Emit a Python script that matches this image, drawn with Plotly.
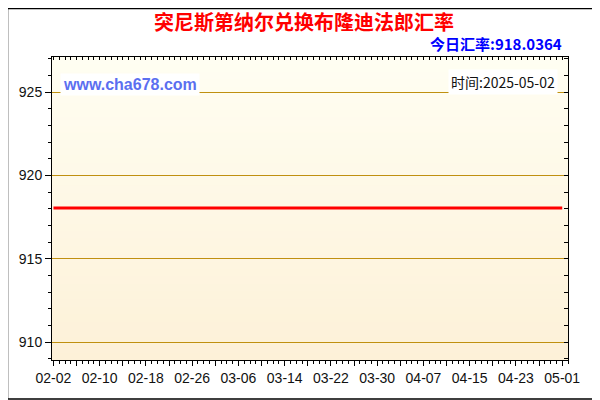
import pandas as pd
import plotly.graph_objects as go

# exchange rate: TND -> BIF, flat over the whole window
dates = ["2025-02-02", "2025-05-01"]
rates = [918.0364, 918.0364]

title_text = "突尼斯第纳尔兑换布隆迪法郎汇率"
today_text = "今日汇率:918.0364"
time_text = "时间:2025-05-02"
site_text = "www.cha678.com"

x_range = ["2025-02-01 18:00", "2025-05-02 00:00"]
y_range = [908.92, 927.1]

# ticks every 4 days, label every other one
tick_dates = pd.date_range("2025-02-02", "2025-05-01", freq="4D")
tick_text = [d.strftime("%m-%d") if i % 2 == 0 else "" for i, d in enumerate(tick_dates)]

fig = go.Figure()

fig.add_trace(go.Scatter(
    x=dates, y=rates, mode="lines",
    line=dict(color="#FF0000", width=3),
    hoverinfo="skip", showlegend=False,
))
# dummy trace so the top/right axes get drawn
fig.add_trace(go.Scatter(x=[], y=[], xaxis="x2", yaxis="y2", showlegend=False))

# vertical gradient for plot background
top_rgb = (255, 254, 242)
bot_rgb = (253, 241, 216)
n_bands = 40
shapes = []
for i in range(n_bands):
    t = i / (n_bands - 1)
    c = tuple(round(bot_rgb[k] + (top_rgb[k] - bot_rgb[k]) * t) for k in range(3))
    shapes.append(dict(
        type="rect", xref="x domain", yref="y domain",
        x0=0, x1=1, y0=i / n_bands, y1=(i + 1) / n_bands + 0.002,
        fillcolor="rgb(%d,%d,%d)" % c, line=dict(width=0), layer="below",
    ))
# outer frame (plot area is 516 x 303 px)
shapes.append(dict(
    type="rect", xref="paper", yref="paper",
    x0=-44.5 / 516, x1=1 + 31 / 516, y0=-39 / 303, y1=1 + 48.5 / 303,
    line=dict(color="#000000", width=1.5), fillcolor="rgba(0,0,0,0)",
))

tick_font = dict(family="Liberation Sans, Arial, sans-serif", size=14, color="#111111")

fig.update_layout(
    # page body adds an 8px margin, so the figure is shrunk by that much
    width=592, height=392,
    margin=dict(l=44, r=32, t=49, b=40),
    paper_bgcolor="#FFFFFF",
    plot_bgcolor="#FDF1D8",
    shapes=shapes,
    title=dict(
        text=title_text, x=0.5, xref="container", xanchor="center",
        y=1 - 15 / 392, yref="container", yanchor="middle",
        font=dict(family="Noto Sans CJK SC", size=20, color="#FF0000", weight="bold"),
    ),
    xaxis=dict(
        type="date", range=x_range,
        tickvals=tick_dates, ticktext=tick_text,
        ticks="outside", ticklen=5, tickcolor="#000000",
        minor=dict(dtick=86400000, tick0="2025-02-02", ticks="outside", ticklen=3,
                   tickcolor="#000000", showgrid=False),
        showgrid=False, zeroline=False,
        showline=True, linecolor="#000000", linewidth=1,
        tickfont=tick_font,
    ),
    xaxis2=dict(
        type="date", range=x_range, overlaying="x", side="top",
        dtick=86400000, tick0="2025-02-02",
        ticks="inside", ticklen=3, tickcolor="#000000",
        showticklabels=False, showgrid=False, zeroline=False,
        showline=True, linecolor="#000000", linewidth=1,
    ),
    yaxis=dict(
        range=y_range, tick0=910, dtick=5,
        ticks="outside", ticklen=6, tickcolor="#000000",
        minor=dict(dtick=1, ticks="outside", ticklen=3, tickcolor="#000000", showgrid=False),
        gridcolor="#C09010", gridwidth=1, zeroline=False,
        showline=True, linecolor="#000000", linewidth=1,
        tickfont=tick_font,
    ),
    yaxis2=dict(
        range=y_range, overlaying="y", side="right",
        tick0=910, dtick=1,
        ticks="inside", ticklen=4, tickcolor="#000000",
        showticklabels=False, showgrid=False, zeroline=False,
        showline=True, linecolor="#000000", linewidth=1,
    ),
    annotations=[
        dict(text=today_text, xref="paper", yref="paper", x=0.992, y=1.046,
             xanchor="right", yanchor="middle", showarrow=False,
             font=dict(family="Noto Sans CJK SC", size=15, color="#0000FF", weight="bold")),
        dict(text=site_text, xref="paper", yref="paper", x=0.016, y=0.908,
             xanchor="left", yanchor="middle", showarrow=False,
             bgcolor="#FFFFFF", borderpad=2,
             font=dict(family="Liberation Sans, Arial, sans-serif", size=16,
                       color="#5B6FF0", weight="bold")),
        dict(text=time_text, xref="paper", yref="paper", x=0.981, y=0.917,
             xanchor="right", yanchor="middle", showarrow=False,
             bgcolor="#FFFFFF", borderpad=2,
             font=dict(family="Noto Sans CJK SC", size=14, color="#111111")),
    ],
)

fig.write_html("out.html")
